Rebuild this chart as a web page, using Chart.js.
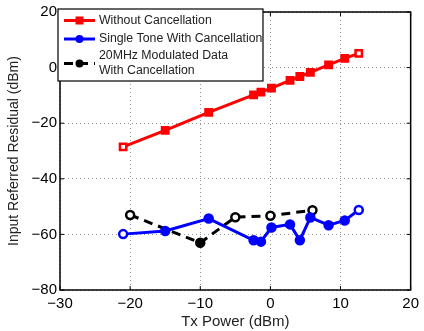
<!DOCTYPE html>
<html>
<head>
<meta charset="utf-8">
<script src="https://cdn.jsdelivr.net/npm/chart.js@4/dist/chart.umd.min.js"></script>
<style>
  html, body { margin: 0; padding: 0; background: #fff; }
  #wrap { width: 424px; height: 331px; }
</style>
</head>
<body>
<div id="wrap"><canvas id="chart"></canvas></div>
<script>
// Tx power points shared by both single tone series
const txPower = [-21, -15, -8.8, -2.4, -1.35, 0.15, 2.8, 4.2, 5.7, 8.3, 10.6, 12.6]
const withoutCancel = [-28.5, -22.6, -16.1, -9.8, -8.8, -7.4, -4.6, -3.2, -1.7, 1.0, 3.3, 5.1]
const singleTone = [-59.9, -58.8, -54.3, -62.1, -62.6, -57.5, -56.4, -62.1, -53.9, -56.7, -55, -51.2]

const txPowerMod = [-20, -10, -5, 0, 6]
const modulated = [-53, -63, -53.8, -53.3, -51.3]

const xTicks = [-30, -20, -10, 0, 10, 20]
const yTicks = [-80, -60, -40, -20, 0, 20]

const labels = ['Without Cancellation', 'Single Tone With Cancellation', ['20MHz Modulated Data', 'With Cancellation']]
const FONT = "'Liberation Sans', Arial, sans-serif"

function pairs(xs, ys) {
  return xs.map((x, i) => ({ x: x, y: ys[i] }))
}

// box around the plot plus small inward ticks on right and top
const frame = {
  id: 'frame',
  afterDraw(chart) {
    const { ctx, chartArea: a, scales } = chart
    ctx.save()
    ctx.strokeStyle = '#000'
    ctx.lineWidth = 1.5
    ctx.strokeRect(a.left, a.top, a.right - a.left, a.bottom - a.top)
    ctx.lineWidth = 1
    ctx.beginPath()
    yTicks.forEach(v => {
      const y = scales.y.getPixelForValue(v)
      ctx.moveTo(a.left, y); ctx.lineTo(a.left + 4, y)
      ctx.moveTo(a.right, y); ctx.lineTo(a.right - 4, y)
    })
    xTicks.forEach(v => {
      const x = scales.x.getPixelForValue(v)
      ctx.moveTo(x, a.bottom); ctx.lineTo(x, a.bottom - 4)
      ctx.moveTo(x, a.top); ctx.lineTo(x, a.top + 4)
    })
    ctx.stroke()
    ctx.restore()
  }
}

// legend box drawn over the top left of the plot
const boxLegend = {
  id: 'boxLegend',
  afterDraw(chart) {
    const ctx = chart.ctx
    const left = 58, top = 9, w = 205, h = 72
    ctx.save()
    ctx.fillStyle = '#fff'
    ctx.fillRect(left, top, w, h)
    ctx.strokeStyle = '#000'
    ctx.lineWidth = 1.2
    ctx.strokeRect(left, top, w, h)
    const rows = [20.5, 39, 63.5]
    chart.data.datasets.forEach((ds, i) => {
      const y = rows[i]
      ctx.strokeStyle = ds.borderColor
      ctx.lineWidth = 3
      ctx.setLineDash(ds.borderDash || [])
      ctx.beginPath()
      ctx.moveTo(64, y); ctx.lineTo(95, y)
      ctx.stroke()
      ctx.setLineDash([])
      ctx.fillStyle = ds.borderColor
      ctx.beginPath()
      if (ds.pointStyle === 'rect') ctx.rect(75.5, y - 4, 8, 8)
      else ctx.arc(79.5, y, 4, 0, Math.PI * 2)
      ctx.fill()
      ctx.fillStyle = '#222'
      ctx.font = '12.3px ' + FONT
      ctx.textBaseline = 'middle'
      const lines = Array.isArray(labels[i]) ? labels[i] : [labels[i]]
      const start = y - (lines.length - 1) * 7.5
      lines.forEach((t, k) => ctx.fillText(t, 99, start + k * 15))
    })
    ctx.restore()
  }
}

new Chart(document.getElementById('chart'), {
  type: 'scatter',
  data: {
    datasets: [{
      label: 'Without Cancellation',
      data: pairs(txPower, withoutCancel),
      showLine: true,
      borderColor: '#ff0000',
      backgroundColor: '#ff0000',
      pointBackgroundColor: ['#fff', '#ff0000', '#ff0000', '#ff0000', '#ff0000', '#ff0000', '#ff0000', '#ff0000', '#ff0000', '#ff0000', '#ff0000', '#fff'],
      borderWidth: 3,
      pointStyle: 'rect',
      pointRadius: 4.5,
      pointBorderWidth: 2.5
    }, {
      label: 'Single Tone With Cancellation',
      data: pairs(txPower, singleTone),
      showLine: true,
      borderColor: '#0000ff',
      backgroundColor: '#0000ff',
      pointBackgroundColor: ['#fff', '#0000ff', '#0000ff', '#0000ff', '#0000ff', '#0000ff', '#0000ff', '#0000ff', '#0000ff', '#0000ff', '#0000ff', '#fff'],
      borderWidth: 3,
      pointStyle: 'circle',
      pointRadius: 4,
      pointBorderWidth: 2.5
    }, {
      label: '20MHz Modulated Data With Cancellation',
      data: pairs(txPowerMod, modulated),
      showLine: true,
      borderColor: '#000',
      backgroundColor: '#000',
      pointBackgroundColor: ['#fff', '#000', '#fff', '#fff', '#fff'],
      borderWidth: 3,
      borderDash: [9, 6],
      pointStyle: 'circle',
      pointRadius: 4,
      pointBorderWidth: 2.5
    }]
  },
  options: {
    responsive: true,
    maintainAspectRatio: false,
    animation: false,
    layout: { padding: { top: 10, right: 8, left: 0, bottom: 0 } },
    plugins: { legend: { display: false }, tooltip: { enabled: false } },
    scales: {
      x: {
        type: 'linear',
        min: -30, max: 20,
        afterBuildTicks(s) { s.ticks = xTicks.map(v => ({ value: v })) },
        afterFit(s) { s.height = 41 },
        grid: { color: '#999', lineWidth: 1, drawTicks: false },
        border: { display: false, dash: [1, 3] },
        ticks: {
          color: '#000', padding: 5,
          font: { family: FONT, size: 15 },
          callback: v => String(v).replace('-', '\u2212')
        },
        title: {
          display: true, text: 'Tx Power (dBm)', color: '#222',
          font: { family: FONT, size: 15 }, padding: { top: 0, bottom: 0 }
        }
      },
      y: {
        min: -80, max: 20,
        afterBuildTicks(s) { s.ticks = yTicks.map(v => ({ value: v })) },
        afterFit(s) { s.width = 60 },
        grid: { color: '#999', lineWidth: 1, drawTicks: false },
        border: { display: false, dash: [1, 3] },
        ticks: {
          color: '#000', padding: 3,
          font: { family: FONT, size: 15 },
          callback: v => String(v).replace('-', '\u2212')
        },
        title: {
          display: true, text: 'Input Referred Residual (dBm)', color: '#222',
          font: { family: FONT, size: 14 }, padding: { top: 6, bottom: 2 }
        }
      }
    }
  },
  plugins: [frame, boxLegend]
})
</script>
</body>
</html>
